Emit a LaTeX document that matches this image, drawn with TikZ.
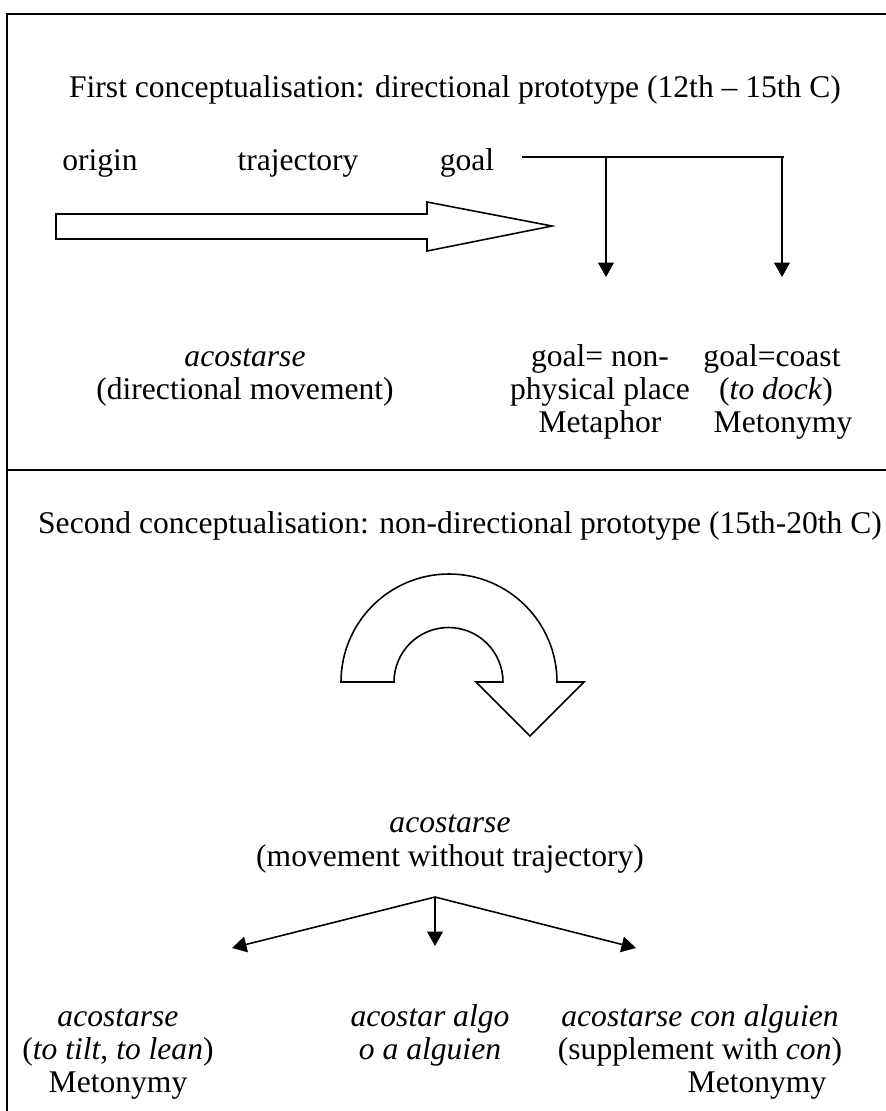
\documentclass[tikz,border=0pt]{standalone}
\usepackage{fontspec}
\setmainfont{Liberation Serif}
\usetikzlibrary{arrows.meta}
\tikzset{lbl/.style={font=\fontsize{12}{14}\selectfont, inner sep=0pt, anchor=base},
 frame/.style={line width=0.7pt},
 outline/.style={line width=0.6pt, line join=miter},
 pointer/.style={line width=0.6pt, -{Triangle[length=5.5pt,width=6pt]}},
 }

\begin{document}
\begin{tikzpicture}[x=0.38pt, y=-0.38pt]
        \useasboundingbox (0,0) rectangle (885,1111);
        \draw[frame] (7,1125) -- (7,14) -- (900,14);
        \draw[frame] (7,470) -- (900,470);

        \node[lbl] (title1) at (455,97) {First conceptualisation: directional prototype (12th – 15th C)};
        \node[lbl] (origin) at (100,170) {origin};
        \node[lbl] (traj) at (298,170) {trajectory};
        \node[lbl] (goal) at (467,170) {goal};

        \draw[outline] (56,214) -- (427,214) -- (427,202) -- (552,226) -- (427,251) -- (427,239) -- (56,239) -- cycle;

        \coordinate (bar1) at (522,157);
        \coordinate (bar2) at (784,157);
        \coordinate (split1) at (606,157);
        \coordinate (split2) at (782,157);
        \coordinate (end1) at (606,277);
        \coordinate (end2) at (782,277);
        \draw[frame] (bar1) -- (bar2);
        \draw[pointer] (split1) -- (end1);
        \draw[pointer] (split2) -- (end2);

        \node[lbl] (dirA) at (245,366) {\textit{acostarse}};
        \node[lbl] (dirB) at (245,399) {(directional movement)};
        \node[lbl] (metaA) at (600,366) {goal= non-};
        \node[lbl] (metaB) at (600,399) {physical place};
        \node[lbl] (metaC) at (600,432) {Metaphor};
        \node[lbl] (coastA) at (772,366) {goal=coast};
        \node[lbl] (coastB) at (776,399) {(\textit{to dock})};
        \node[lbl] (coastC) at (783,432) {Metonymy};

        \node[lbl] (title2) at (460,533) {Second conceptualisation: non-directional prototype (15th-20th C)};

        \draw[outline] (341,682) arc[start angle=180, end angle=360, radius=108]
            -- (584,682) -- (530,736) -- (476,682) -- (503,682)
            arc[start angle=360, end angle=180, radius=54.5] -- cycle;

        \node[lbl] (moveA) at (450,832) {\textit{acostarse}};
        \node[lbl] (moveB) at (450,866) {(movement without trajectory)};

        \coordinate (fork) at (435,897);
        \foreach \name/\x/\y in {left/232/948, mid/435/946, right/636/948} {
            \coordinate (\name) at (\x,\y);
            \draw[pointer] (fork) -- (\name);
        }

        \node[lbl] (tiltA) at (118,1026) {\textit{acostarse}};
        \node[lbl] (tiltB) at (118,1059) {(\textit{to tilt}, \textit{to lean})};
        \node[lbl] (tiltC) at (118,1092) {Metonymy};
        \node[lbl] (algoA) at (430,1026) {\textit{acostar algo}};
        \node[lbl] (algoB) at (430,1059) {\textit{o a alguien}};
        \node[lbl] (conA) at (700,1026) {\textit{acostarse con alguien}};
        \node[lbl] (conB) at (700,1059) {(supplement with \textit{con})};
        \node[lbl] (conC) at (757,1092) {Metonymy};
    \end{tikzpicture}
\end{document}
